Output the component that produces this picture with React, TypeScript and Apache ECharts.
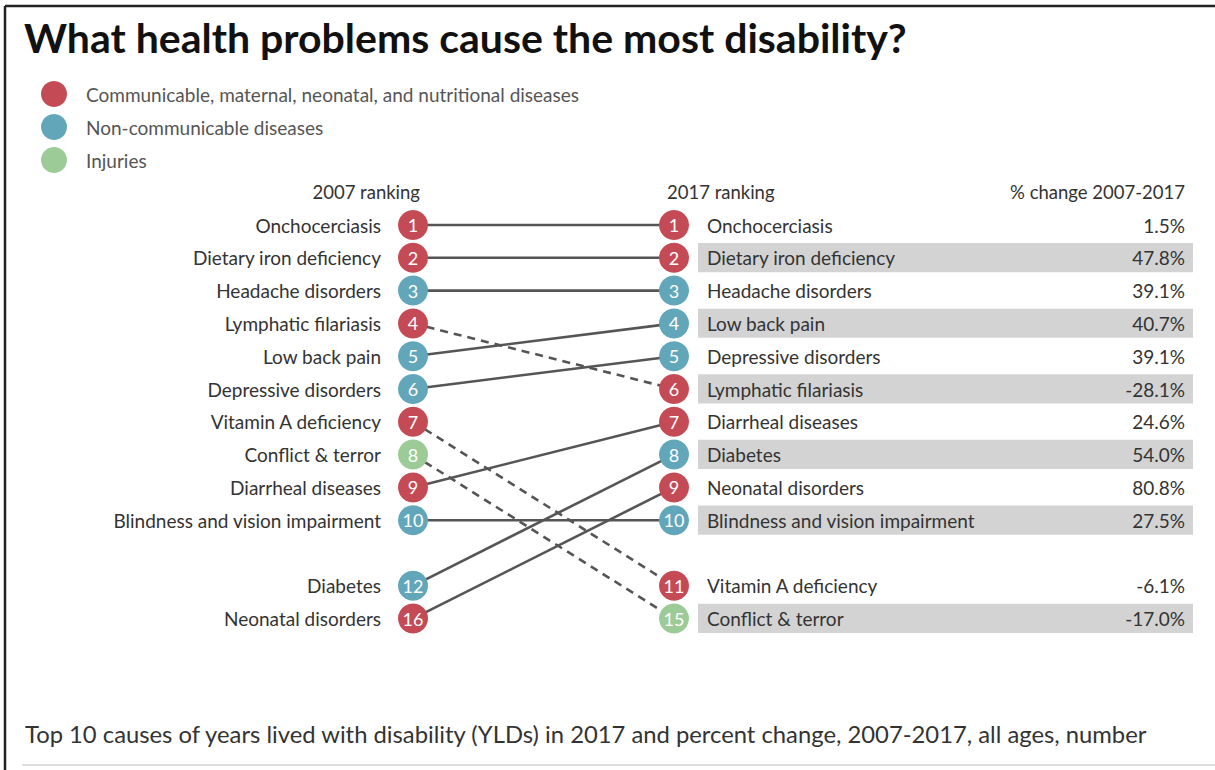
import React, { useEffect, useRef } from "react";
import * as echarts from "echarts";

const titleText = "What health problems cause the most disability?";
const footnoteText =
  "Top 10 causes of years lived with disability (YLDs) in 2017 and percent change, 2007-2017, all ages, number";
const headers = ["2007 ranking", "2017 ranking", "% change 2007-2017"];

const groupNames = [
  "Communicable, maternal, neonatal, and nutritional diseases",
  "Non-communicable diseases",
  "Injuries",
];
const groupColors = ["#C44A55", "#62A6BA", "#9CCB97"];

const causes = [
  "Onchocerciasis",
  "Dietary iron deficiency",
  "Headache disorders",
  "Lymphatic filariasis",
  "Low back pain",
  "Depressive disorders",
  "Vitamin A deficiency",
  "Conflict & terror",
  "Diarrheal diseases",
  "Blindness and vision impairment",
  "Diabetes",
  "Neonatal disorders",
];
const causeGroup = [0, 0, 1, 0, 1, 1, 0, 2, 0, 1, 1, 0];
const rank2007 = [1, 2, 3, 4, 5, 6, 7, 8, 9, 10, 12, 16];
const rank2017 = [1, 2, 3, 6, 4, 5, 11, 15, 7, 10, 8, 9];
const pctChange = [1.5, 47.8, 39.1, -28.1, 40.7, 39.1, -6.1, -17.0, 24.6, 27.5, 54.0, 80.8];

const FONT = "Lato, 'Open Sans', sans-serif";
const BODY = 19;

function toSlots(ranks: number[]): number[] {
  const extra = ranks.filter((r) => r > 10).sort((a, b) => a - b);
  return ranks.map((r) => (r <= 10 ? r : 11 + extra.indexOf(r) + 1));
}

export default function App() {
  const ref = useRef<HTMLDivElement>(null);

  useEffect(() => {
    if (!ref.current) return;
    const chart = echarts.init(ref.current, undefined, { renderer: "svg" });
    const slot07 = toSlots(rank2007);
    const slot17 = toSlots(rank2017);

    const circleSeries: any[] = [];
    groupNames.forEach((g, gi) => {
      [0, 1].forEach((side) => {
        const data: any[] = [];
        causes.forEach((c, i) => {
          if (causeGroup[i] !== gi) return;
          data.push({
            value: side === 0 ? [0, slot07[i]] : [1, slot17[i]],
            name: String(side === 0 ? rank2007[i] : rank2017[i]),
          });
        });
        circleSeries.push({
          type: "scatter",
          name: g,
          silent: true,
          z: 5,
          symbol: "circle",
          symbolSize: 30,
          itemStyle: { color: groupColors[gi], opacity: 1 },
          label: {
            show: true,
            position: "inside",
            formatter: "{b}",
            color: "#ffffff",
            fontSize: 18,
            fontFamily: FONT,
          },
          data,
        });
      });
    });

    const leftData = causes.map((c, i) => [0, slot07[i], i]);
    const leftNames = {
      type: "custom",
      silent: true,
      z: 3,
      clip: false,
      encode: { x: 0, y: 1 },
      renderItem: (params: any, api: any) => {
        const p = api.coord([api.value(0), api.value(1)]);
        return {
          type: "text",
          x: p[0] - 32,
          y: p[1],
          style: {
            text: causes[api.value(2)],
            fill: "#333",
            fontSize: BODY,
            fontFamily: FONT,
            align: "right",
            verticalAlign: "middle",
          },
        };
      },
      data: leftData,
    };

    const lineData = causes.map((c, i) => [
      0,
      slot07[i],
      1,
      slot17[i],
      rank2017[i] > rank2007[i] ? 1 : 0,
    ]);
    const linesSeries = {
      type: "custom",
      silent: true,
      z: 1,
      clip: false,
      encode: { x: [0, 2], y: [1, 3] },
      renderItem: (params: any, api: any) => {
        const p1 = api.coord([api.value(0), api.value(1)]);
        const p2 = api.coord([api.value(2), api.value(3)]);
        const dashed = api.value(4) === 1;
        return {
          type: "line",
          shape: { x1: p1[0], y1: p1[1], x2: p2[0], y2: p2[1] },
          style: {
            stroke: "#555555",
            lineWidth: 2.6,
            lineDash: dashed ? [8, 6] : null,
          },
        };
      },
      data: lineData,
    };

    const order = causes.map((c, i) => i).sort((a, b) => slot17[a] - slot17[b]);
    const tableData = order.map((i, k) => [1, slot17[i], i, k % 2]);
    const tableSeries = {
      type: "custom",
      silent: true,
      z: 0,
      clip: false,
      encode: { x: 0, y: 1 },
      renderItem: (params: any, api: any) => {
        const p = api.coord([api.value(0), api.value(1)]);
        const rowH = api.size([0, 1])[1];
        const idx = api.value(2);
        const shaded = api.value(3) === 1;
        const children: any[] = [];
        if (shaded) {
          children.push({
            type: "rect",
            shape: { x: p[0] + 24, y: p[1] - rowH * 0.45, width: 495, height: rowH * 0.89 },
            style: { fill: "#D3D3D3" },
          });
        }
        children.push({
          type: "text",
          x: p[0] + 33,
          y: p[1],
          style: {
            text: causes[idx],
            fill: "#333",
            fontSize: BODY,
            fontFamily: FONT,
            align: "left",
            verticalAlign: "middle",
          },
        });
        const v = pctChange[idx];
        children.push({
          type: "text",
          x: p[0] + 511,
          y: p[1],
          style: {
            text: v.toFixed(1) + "%",
            fill: "#333",
            fontSize: BODY,
            fontFamily: FONT,
            align: "right",
            verticalAlign: "middle",
          },
        });
        return { type: "group", children };
      },
      data: tableData,
    };

    chart.setOption({
      animation: false,
      backgroundColor: "#ffffff",
      grid: { left: 413, right: 541, top: 225, bottom: 151.4 },
      xAxis: { type: "value", min: 0, max: 1, show: false },
      yAxis: { type: "value", min: 1, max: 13, inverse: true, show: false },
      legend: {
        show: true,
        orient: "vertical",
        left: 41,
        top: 81,
        padding: 0,
        itemWidth: 26,
        itemHeight: 26,
        itemGap: 7,
        icon: "circle",
        selectedMode: false,
        data: groupNames,
        textStyle: {
          fontSize: BODY,
          color: "#555",
          fontFamily: FONT,
          padding: [0, 0, 0, 14],
        },
      },
      graphic: [
        {
          type: "line",
          shape: { x1: 5, y1: 6, x2: 1215, y2: 6 },
          style: { stroke: "#222", lineWidth: 2.5 },
        },
        {
          type: "line",
          shape: { x1: 5, y1: 6, x2: 5, y2: 770 },
          style: { stroke: "#222", lineWidth: 2.5 },
        },
        {
          type: "line",
          shape: { x1: 22, y1: 765, x2: 1215, y2: 765 },
          style: { stroke: "#dddddd", lineWidth: 2 },
        },
        {
          type: "text",
          x: 24,
          y: 37,
          style: {
            text: titleText,
            fill: "#111",
            fontSize: 41,
            fontWeight: "bold",
            fontFamily: FONT,
            align: "left",
            verticalAlign: "middle",
          },
        },
        {
          type: "text",
          x: 420,
          y: 192,
          style: {
            text: headers[0],
            fill: "#333",
            fontSize: 18.5,
            fontFamily: FONT,
            align: "right",
            verticalAlign: "middle",
          },
        },
        {
          type: "text",
          x: 667,
          y: 192,
          style: {
            text: headers[1],
            fill: "#333",
            fontSize: 18.5,
            fontFamily: FONT,
            align: "left",
            verticalAlign: "middle",
          },
        },
        {
          type: "text",
          x: 1185,
          y: 192,
          style: {
            text: headers[2],
            fill: "#333",
            fontSize: 18.5,
            fontFamily: FONT,
            align: "right",
            verticalAlign: "middle",
          },
        },
        {
          type: "text",
          x: 25,
          y: 734,
          style: {
            text: footnoteText,
            fill: "#333",
            fontSize: 23.8,
            fontFamily: FONT,
            align: "left",
            verticalAlign: "middle",
          },
        },
      ],
      series: [linesSeries, tableSeries, leftNames, ...circleSeries],
    });

    return () => chart.dispose();
  }, []);

  return (
    <div
      ref={ref}
      style={{ position: "fixed", left: 0, top: 0, width: 1215, height: 770 }}
    />
  );
}
